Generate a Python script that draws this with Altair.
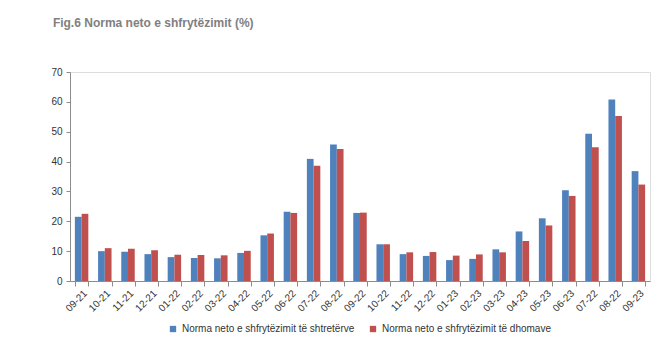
import altair as alt
import pandas as pd

labels = ["09-21","10-21","11-21","12-21","01-22","02-22","03-22","04-22","05-22","06-22",
          "07-22","08-22","09-22","10-22","11-22","12-22","01-23","02-23","03-23","04-23",
          "05-23","06-23","07-22","08-22","09-23"]
beds = [21.5,10.0,9.8,9.0,8.0,7.7,7.6,9.4,15.3,23.2,40.9,45.7,22.8,12.3,9.0,8.4,7.0,7.4,10.6,16.6,
        21.0,30.4,49.3,60.8,36.8]
rooms = [22.5,11.0,10.8,10.3,8.8,8.7,8.6,10.1,15.9,22.8,38.6,44.2,22.9,12.3,9.6,9.7,8.5,8.9,9.6,13.4,
         18.6,28.5,44.8,55.3,32.3]
series = ["Norma neto e shfrytëzimit të shtretërve", "Norma neto e shfrytëzimit të dhomave"]
colors = ["#4F81BD", "#C0504D"]

rows = []
for i, lab in enumerate(labels):
    rows.append({"idx": i, "series": series[0], "value": beds[i]})
    rows.append({"idx": i, "series": series[1], "value": rooms[i]})
df = pd.DataFrame(rows)

label_arr = "[" + ",".join(f"'{l}'" for l in labels) + "]"
font = "Liberation Sans"

chart = alt.Chart(df).mark_bar().encode(
    x=alt.X("idx:O", title=None,
            scale=alt.Scale(paddingInner=0.42, paddingOuter=0.21),
            axis=alt.Axis(labelExpr=f"{label_arr}[datum.value]", labelAngle=-45,
                          labelAlign="right", labelBaseline="top", labelFontSize=10,
                          labelColor="#333333", labelFont=font, tickBand="extent",
                          domainColor="#8c8c8c", tickColor="#8c8c8c", tickSize=5,
                          labelPadding=2)),
    xOffset=alt.XOffset("series:N", sort=series, scale=alt.Scale(paddingInner=0, paddingOuter=0)),
    y=alt.Y("value:Q", title=None,
            scale=alt.Scale(domain=[0, 70], nice=False),
            axis=alt.Axis(values=list(range(0, 71, 10)), grid=False, labelFontSize=10,
                          labelColor="#333333", labelFont=font, domainColor="#8c8c8c",
                          tickColor="#8c8c8c", tickSize=4, labelPadding=4)),
    color=alt.Color("series:N", sort=series,
                    scale=alt.Scale(domain=series, range=colors),
                    legend=alt.Legend(title=None, orient="none", legendX=98, legendY=252,
                                      direction="horizontal", symbolType="square",
                                      symbolSize=40, symbolStrokeWidth=0, labelFontSize=10,
                                      labelFont=font, labelColor="#333333",
                                      columnPadding=13, labelLimit=300)),
).properties(
    width=580, height=209,
    title=alt.TitleParams("Fig.6 Norma neto e shfrytëzimit (%)", anchor="start",
                          font=font, fontSize=12, fontWeight="bold", color="#808080",
                          dx=2, offset=37),
    padding={"left": 62, "top": 64, "right": 13, "bottom": 82},
    autosize=alt.AutoSizeParams(type="none"),
).configure_view(stroke=None).configure(background="white")

chart.save("out.html", embed_options={"renderer": "svg", "actions": False})
